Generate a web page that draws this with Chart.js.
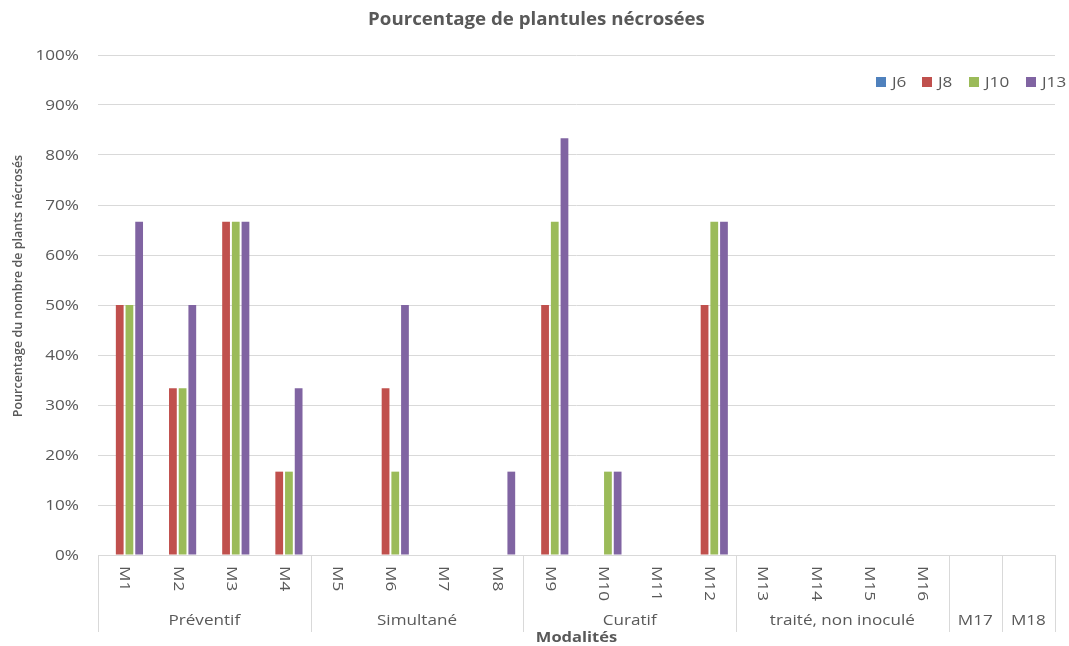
<!DOCTYPE html>
<html>
<head>
<meta charset="utf-8">
<script src="https://cdn.jsdelivr.net/npm/chart.js@4/dist/chart.umd.min.js"></script>
<style>
  html, body { margin: 0; padding: 0; background: #ffffff; }
  #wrap { width: 1069px; height: 646px; }
</style>
</head>
<body>
<div id="wrap"><canvas id="c" width="1069" height="646"></canvas></div>
<script>
// Modalities and their treatment groups
const categories = ['M1','M2','M3','M4','M5','M6','M7','M8','M9','M10','M11','M12','M13','M14','M15','M16','M17','M18'];
const groupLabels = ['Préventif','Simultané','Curatif','traité, non inoculé','M17','M18'];
const groupSizes = [4, 4, 4, 4, 1, 1];

// Percentage of necrotic seedlings per observation day
const seriesNames = ['J6','J8','J10','J13'];
const seriesColors = ['#4F81BD','#C0504D','#9BBB59','#8064A2'];
const j6  = [0, 0, 0, 0, 0, 0, 0, 0, 0, 0, 0, 0, 0, 0, 0, 0, 0, 0];
const j8  = [50, 33.33, 66.67, 16.67, 0, 33.33, 0, 0, 50, 0, 0, 50, 0, 0, 0, 0, 0, 0];
const j10 = [50, 33.33, 66.67, 16.67, 0, 16.67, 0, 0, 66.67, 16.67, 0, 66.67, 0, 0, 0, 0, 0, 0];
const j13 = [66.67, 50, 66.67, 33.33, 0, 50, 0, 16.67, 83.33, 16.67, 0, 66.67, 0, 0, 0, 0, 0, 0];

const yTickValues = [0, 10, 20, 30, 40, 50, 60, 70, 80, 90, 100];

const titleText = 'Pourcentage de plantules nécrosées';
const yTitleText = 'Pourcentage du nombre de plants nécrosés';
const xTitleText = 'Modalités';

const TEXT = '#595959';
const GRID = '#d9d9d9';
const FONT = "'Open Sans', 'DejaVu Sans', sans-serif";
const WIDE = 1.18;   // horizontal widening applied to the wide-set labels

const seriesData = [j6, j8, j10, j13];

// Text helper: draws a label widened horizontally, optionally rotated
function wideText(ctx, text, x, y, align, sx, angle) {
  ctx.save();
  ctx.translate(x, y);
  if (angle) ctx.rotate(angle);
  ctx.scale(sx, 1);
  ctx.textAlign = align;
  ctx.textBaseline = 'middle';
  ctx.fillText(text, 0, 0);
  ctx.restore();
}

// Title, percentage ticks, multi-level category axis, axis titles and legend
const decor = {
  id: 'decor',
  afterDraw(chart) {
    const ctx = chart.ctx;
    const xs = chart.scales.x;
    const ys = chart.scales.y;
    const area = chart.chartArea;
    const n = categories.length;
    const w = (xs.right - xs.left) / n;
    const lineBottom = area.bottom + 77;

    ctx.save();
    ctx.fillStyle = TEXT;

    // chart title
    ctx.font = 'bold 17px ' + FONT;
    wideText(ctx, titleText, chart.width / 2 + 2, 20, 'center', 1.1);

    // y tick labels
    ctx.font = '14.5px ' + FONT;
    ys.ticks.forEach(t => {
      wideText(ctx, t.value + '%', 79, ys.getPixelForValue(t.value) + 0.5, 'right', WIDE);
    });

    // first row: modality names (only inside multi-item groups)
    let start = 0;
    const singles = new Set();
    groupSizes.forEach(s => { if (s === 1) singles.add(start); start += s; });
    categories.forEach((c, i) => {
      if (singles.has(i)) return;
      wideText(ctx, c, xs.getPixelForValue(i), area.bottom + 11, 'left', WIDE, Math.PI / 2);
    });

    // group separators and group names
    ctx.strokeStyle = GRID;
    ctx.lineWidth = 1;
    let k = 0;
    const edges = [0];
    groupSizes.forEach(s => { k += s; edges.push(k); });
    edges.forEach(e => {
      const x = Math.round(xs.left + e * w) + 0.5;
      ctx.beginPath();
      ctx.moveTo(x, area.bottom);
      ctx.lineTo(x, lineBottom);
      ctx.stroke();
    });
    groupLabels.forEach((g, gi) => {
      const cx = xs.left + (edges[gi] + edges[gi + 1]) / 2 * w;
      wideText(ctx, g, cx, area.bottom + 66, 'center', WIDE);
    });

    // x axis title
    ctx.font = 'bold 15px ' + FONT;
    wideText(ctx, xTitleText, (area.left + area.right) / 2, 638, 'center', 1.1);

    // y axis title
    ctx.font = '600 12.5px ' + FONT;
    wideText(ctx, yTitleText, 18, 286, 'center', 1, -Math.PI / 2);

    // legend
    ctx.font = '14.5px ' + FONT;
    const legendX = [876, 922, 969, 1026];
    chart.data.datasets.forEach((ds, i) => {
      ctx.fillStyle = ds.backgroundColor;
      ctx.fillRect(legendX[i], 77, 10, 10);
      ctx.fillStyle = TEXT;
      wideText(ctx, ds.label, legendX[i] + 16, 82.5, 'left', WIDE);
    });
    ctx.restore();
  }
};

new Chart(document.getElementById('c'), {
  type: 'bar',
  data: {
    labels: categories,
    datasets: seriesNames.map((name, i) => ({
      label: name,
      data: seriesData[i],
      backgroundColor: seriesColors[i],
      borderWidth: 0,
      barPercentage: 0.8,
      categoryPercentage: 0.73
    }))
  },
  options: {
    responsive: false,
    animation: false,
    devicePixelRatio: 1,
    layout: { padding: { left: 0, right: 14, top: 55, bottom: 0 } },
    plugins: {
      legend: { display: false },
      tooltip: { enabled: false },
      title: { display: false }
    },
    scales: {
      x: {
        grid: { display: false, drawTicks: false },
        border: { display: true, color: GRID },
        ticks: { display: false },
        afterFit: s => { s.height = 91; }
      },
      y: {
        min: 0,
        max: 100,
        afterBuildTicks: s => { s.ticks = yTickValues.map(v => ({ value: v })); },
        ticks: { display: false },
        grid: { color: GRID, drawTicks: false },
        border: { display: false },
        afterFit: s => { s.width = 98; }
      }
    }
  },
  plugins: [decor]
});
</script>
</body>
</html>
